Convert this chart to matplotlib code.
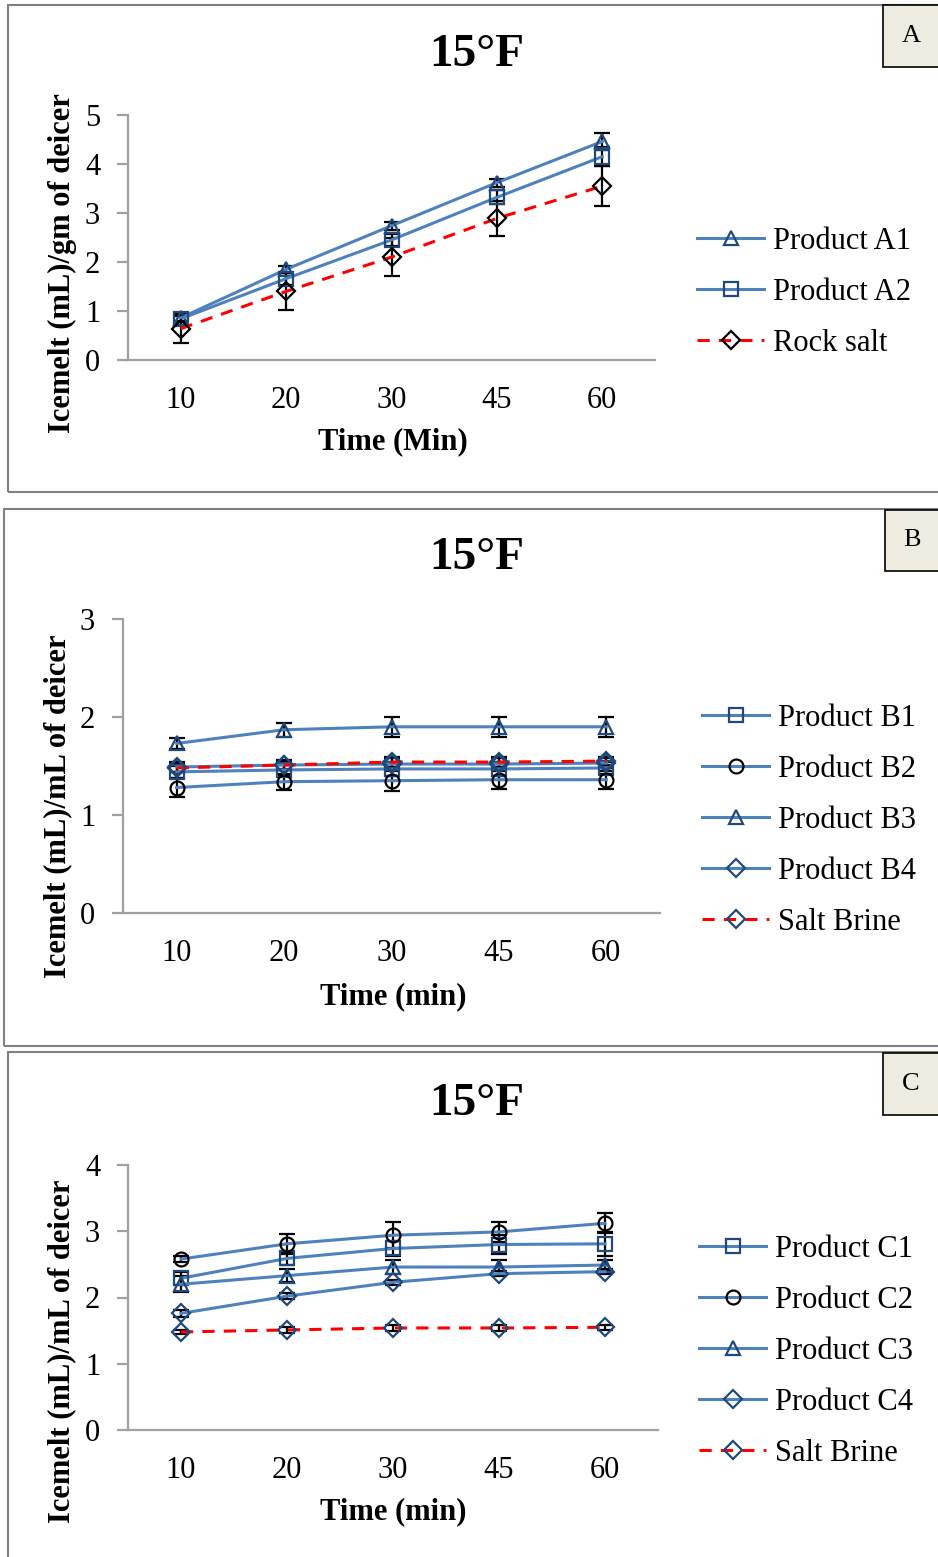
import matplotlib.pyplot as plt
from matplotlib.patches import Rectangle

plt.rcParams["font.family"] = ["Liberation Serif", "DejaVu Serif"]

W, H = 938, 1557

times = ["10", "20", "30", "45", "60"]

# panel A
a1 = [0.86, 1.85, 2.74, 3.62, 4.46]
a1_err = [0.06, 0.07, 0.08, 0.08, 0.17]
a2 = [0.84, 1.66, 2.45, 3.32, 4.15]
a2_err = [0.06, 0.12, 0.12, 0.14, 0.19]
rock_salt = [0.64, 1.40, 2.10, 2.89, 3.55]
rock_salt_err = [0.30, 0.37, 0.39, 0.36, 0.41]

# panel B
b1 = [1.44, 1.46, 1.47, 1.47, 1.48]
b1_err = [0.06, 0.06, 0.07, 0.07, 0.06]
b2 = [1.28, 1.34, 1.35, 1.36, 1.36]
b2_err = [0.10, 0.08, 0.10, 0.09, 0.09]
b3 = [1.73, 1.87, 1.90, 1.90, 1.90]
b3_err = [0.06, 0.07, 0.10, 0.10, 0.10]
b4 = [1.49, 1.51, 1.52, 1.52, 1.53]
b4_err = [0.05, 0.05, 0.06, 0.06, 0.05]
brine_b = [1.48, 1.51, 1.54, 1.54, 1.55]
brine_b_err = [0.04, 0.04, 0.05, 0.05, 0.04]

# panel C
c1 = [2.29, 2.59, 2.74, 2.80, 2.81]
c1_err = [0.10, 0.10, 0.12, 0.15, 0.18]
c2 = [2.58, 2.81, 2.94, 2.99, 3.12]
c2_err = [0.05, 0.15, 0.20, 0.15, 0.15]
c3 = [2.20, 2.33, 2.46, 2.46, 2.49]
c3_err = [0.12, 0.10, 0.10, 0.10, 0.08]
c4 = [1.76, 2.02, 2.23, 2.36, 2.39]
c4_err = [0.05, 0.05, 0.04, 0.04, 0.04]
brine_c = [1.48, 1.51, 1.54, 1.54, 1.55]
brine_c_err = [0.03, 0.04, 0.04, 0.04, 0.04]

BLUE = "#4f81bd"
DARK = "#1f497d"
RED = "#ff0000"
GRAY = "#a0a0a0"
FS = 22


def px_axes(fig, x0, y0, x1, y1):
    return fig.add_axes([x0 / W, 1 - y1 / H, (x1 - x0) / W, (y1 - y0) / H])


def frame(fig, x0, y0, x1, y1, letter, lx0, ly0, lx1, ly1):
    fig.patches.append(Rectangle((x0 / W, 1 - y1 / H), (x1 - x0) / W, (y1 - y0) / H,
                                 transform=fig.transFigure, fill=False,
                                 edgecolor="#808080", linewidth=1.5))
    fig.patches.append(Rectangle((lx0 / W, 1 - ly1 / H), (lx1 - lx0) / W, (ly1 - ly0) / H,
                                 transform=fig.transFigure, facecolor="#eeece1",
                                 edgecolor="black", linewidth=1.2))
    fig.text((lx0 + lx1) / 2 / W - 0.003, 1 - (ly0 + ly1) / 2 / H, letter,
             ha="center", va="center", fontsize=19)


def draw_series(ax, x, y, err, marker, mec, color=BLUE, ls="-", label=None):
    ax.errorbar(x, y, yerr=err, fmt="none", ecolor="black", elinewidth=1.6,
                capsize=6, capthick=1.6, zorder=2)
    ax.plot(x, y, color=color, linestyle=ls, linewidth=2.2, marker=marker,
            markersize=10 if marker != "D" else 9, markerfacecolor="none",
            markeredgecolor=mec, markeredgewidth=1.6, label=label, zorder=3,
            dashes=(4, 3) if ls == "--" else (None, None))


def style(ax, ymax):
    ax.set_xlim(-0.5, 4.5)
    ax.set_ylim(0, ymax)
    ax.set_yticks(range(0, ymax + 1))
    ax.set_xticks(range(5))
    ax.set_xticklabels(times)
    for s in ["top", "right"]:
        ax.spines[s].set_visible(False)
    for s in ["left", "bottom"]:
        ax.spines[s].set_color(GRAY)
        ax.spines[s].set_linewidth(1.6)
    ax.tick_params(axis="y", length=8, width=1.6, color=GRAY, labelsize=FS, pad=12)
    ax.tick_params(axis="x", length=0, labelsize=FS, pad=19)
    ax.patch.set_alpha(0)


def add_legend(ax, lx, ly):
    ax.legend(loc="upper left", bbox_to_anchor=(lx / W, 1 - ly / H),
              bbox_transform=ax.figure.transFigure, frameon=False, fontsize=FS,
              handlelength=2.2, handletextpad=0.3, labelspacing=0.72,
              borderpad=0, borderaxespad=0, markerscale=1.0)


def labels(fig, xl_y, xl_text, yl_x, yl_y, yl_text, title_y):
    fig.text(393 / W, 1 - xl_y / H, xl_text, ha="center", va="center",
             fontsize=FS, fontweight="bold")
    fig.text(yl_x / W, 1 - yl_y / H, yl_text, ha="center", va="center",
             rotation=90, fontsize=FS, fontweight="bold")
    fig.text(477 / W, 1 - title_y / H, "15°F", ha="center", va="center",
             fontsize=34, fontweight="bold")


fig = plt.figure(figsize=(W / 100, H / 100), dpi=100)
x = list(range(5))

# ---------- A ----------
frame(fig, 8, 5, 945, 492, "A", 883, 5, 945, 67)
ax = px_axes(fig, 128, 115, 655, 360)
draw_series(ax, x, a1, a1_err, "^", DARK, label="Product A1")
draw_series(ax, x, a2, a2_err, "s", DARK, label="Product A2")
draw_series(ax, x, rock_salt, rock_salt_err, "D", "black", color=RED, ls="--",
            label="Rock salt")
style(ax, 5)
add_legend(ax, 697, 227)
labels(fig, 442, "Time (Min)", 62, 263, "Icemelt (mL)/gm of deicer", 55)

# ---------- B ----------
frame(fig, 4, 509, 945, 1046, "B", 885, 510, 945, 571)
ax = px_axes(fig, 123, 619, 660, 913)
draw_series(ax, x, b1, b1_err, "s", DARK, label="Product B1")
draw_series(ax, x, b2, b2_err, "o", "black", label="Product B2")
draw_series(ax, x, b3, b3_err, "^", DARK, label="Product B3")
draw_series(ax, x, b4, b4_err, "D", DARK, label="Product B4")
draw_series(ax, x, brine_b, brine_b_err, "D", DARK, color=RED, ls="--",
            label="Salt Brine")
style(ax, 3)
add_legend(ax, 702, 704)
labels(fig, 997, "Time (min)", 58, 806, "Icemelt (mL)/mL of deicer", 558)

# ---------- C ----------
frame(fig, 8, 1052, 945, 1565, "C", 883, 1053, 945, 1115)
ax = px_axes(fig, 128, 1165, 658, 1430)
draw_series(ax, x, c1, c1_err, "s", DARK, label="Product C1")
draw_series(ax, x, c2, c2_err, "o", "black", label="Product C2")
draw_series(ax, x, c3, c3_err, "^", DARK, label="Product C3")
draw_series(ax, x, c4, c4_err, "D", DARK, label="Product C4")
draw_series(ax, x, brine_c, brine_c_err, "D", DARK, color=RED, ls="--",
            label="Salt Brine")
style(ax, 4)
add_legend(ax, 699, 1235)
labels(fig, 1512, "Time (min)", 62, 1351, "Icemelt (mL)/mL of deicer", 1104)

fig.savefig("out.png", dpi=100)
